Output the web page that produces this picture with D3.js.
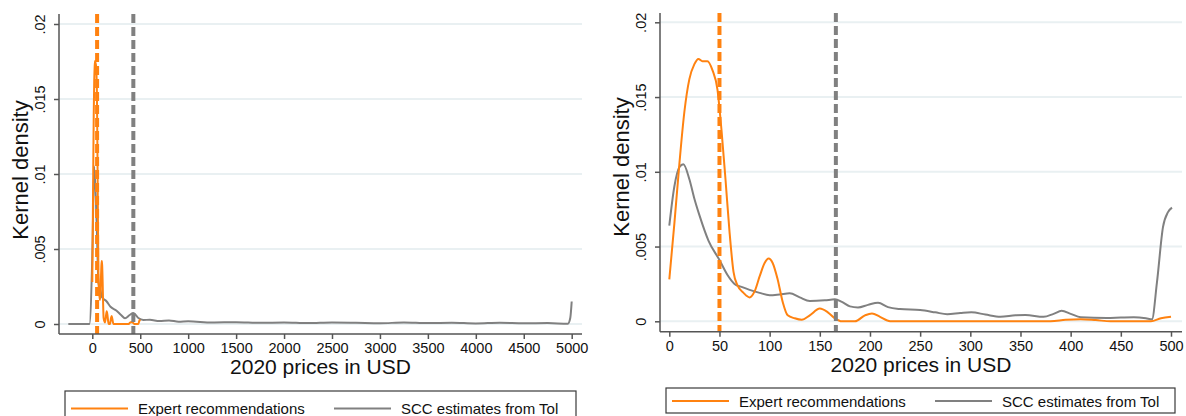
<!DOCTYPE html>
<html>
<head>
<meta charset="utf-8">
<script src="https://cdn.jsdelivr.net/npm/d3@7"></script>
<style>
  html, body { margin: 0; padding: 0; background: #ffffff; }
  svg { display: block; font-family: "Liberation Sans", Arial, sans-serif; }
</style>
</head>
<body>
<svg id="chart" width="1186" height="416"></svg>
<script>
// Kernel density of expert SCC recommendations, 2020 USD: [price, density]
const expertDensity = [
  [0, 0.0028], [5, 0.0065], [10, 0.0105], [15, 0.0140], [20, 0.0162], [25, 0.0172],
  [29, 0.01755], [33, 0.0174], [38, 0.0174], [43, 0.0168], [48, 0.0155], [52, 0.0128],
  [56, 0.0095], [60, 0.0060], [64, 0.0033], [68, 0.0024], [74, 0.0019], [80, 0.0016],
  [85, 0.0020], [90, 0.0030], [95, 0.0039], [99, 0.0042], [103, 0.0039], [108, 0.0028],
  [113, 0.0013], [118, 0.0004], [125, 0.0002], [132, 0.0001], [140, 0.0004], [150, 0.00085],
  [158, 0.0006], [165, 0.0002], [172, 0.0], [185, 0.0], [195, 0.0004], [202, 0.00053],
  [210, 0.0003], [220, 0.0], [380, 0.0], [395, 0.0001], [410, 0.00014], [425, 0.00008],
  [440, 0.0], [480, 0.0], [490, 0.0002], [500, 0.0003]
];

// Kernel density of Tol's SCC estimates over the full range (-250 to 5000)
const tolDensityFull = [
  [-250, 0], [-30, 0], [0, 0.0045], [20, 0.0105], [45, 0.0068], [65, 0.0027], [80, 0.0024],
  [100, 0.0018], [150, 0.0015], [190, 0.00115], [250, 0.0009], [300, 0.0006], [341, 0.00038],
  [390, 0.0006], [428, 0.00073], [480, 0.0004], [532, 0.00027], [600, 0.00028], [700, 0.0002],
  [800, 0.00024], [900, 0.00015], [1000, 0.00018], [1250, 0.0001], [1500, 0.00012],
  [1750, 0.00008], [2000, 0.0001], [2250, 0.00006], [2500, 0.0001], [2750, 0.00008],
  [3000, 0.00005], [3250, 0.0001], [3500, 0.00006], [3750, 0.00008], [4000, 0.00004],
  [4250, 0.00008], [4500, 0.00005], [4750, 0.00006], [4960, 0.00002], [4985, 0.0004],
  [5000, 0.0015]
];

// Kernel density of Tol's SCC estimates truncated at 500
const tolDensityTrunc = [
  [0, 0.0064], [5, 0.0090], [10, 0.0103], [14, 0.0105], [20, 0.0095], [25, 0.0082],
  [30, 0.0071], [39, 0.0054], [50, 0.0041], [58, 0.0031], [65, 0.0025], [72, 0.0023],
  [80, 0.0021], [90, 0.0019], [100, 0.00175], [110, 0.0018], [120, 0.00187], [130, 0.0016],
  [140, 0.00135], [155, 0.0014], [165, 0.00147], [172, 0.0013], [180, 0.0010], [188, 0.00093],
  [198, 0.0011], [208, 0.00124], [218, 0.00095], [230, 0.00082], [250, 0.00075], [265, 0.0006],
  [277, 0.00047], [290, 0.00055], [301, 0.0006], [315, 0.00045], [330, 0.0003], [345, 0.0004],
  [355, 0.00042], [373, 0.0003], [383, 0.0005], [391, 0.0007], [400, 0.0005], [410, 0.00027],
  [436, 0.00022], [450, 0.00025], [463, 0.00027], [475, 0.0002], [481, 0.00013], [486, 0.0026],
  [492, 0.0063], [497, 0.0073], [501, 0.0076]
];

// Reference lines (dashed verticals)
const expertMarker = 50;
const tolMarkerFull = 428;
const tolMarkerTrunc = 166;

// Axis ticks
const leftXTicks = [0, 500, 1000, 1500, 2000, 2500, 3000, 3500, 4000, 4500, 5000];
const rightXTicks = [0, 50, 100, 150, 200, 250, 300, 350, 400, 450, 500];
const yTicks = [0, 0.005, 0.01, 0.015, 0.02];
const yTickLabels = ["0", ".005", ".01", ".015", ".02"];

const seriesNames = ["Expert recommendations", "SCC estimates from Tol"];
const xTitle = "2020 prices in USD";
const yTitle = "Kernel density";

const ORANGE = "#ff8210";
const GRAY = "#808080";
const AXIS = "#555555";
const GRID = "#e9f0f2";

const svg = d3.select("#chart");

function drawPanel(cfg) {
  const g = svg.append("g");
  const x = d3.scaleLinear().domain(cfg.xDomain).range(cfg.xRange);
  const y = d3.scaleLinear().domain([0, 0.02]).range(cfg.yRange);

  // horizontal gridlines
  g.selectAll("line.grid").data(yTicks).join("line")
    .attr("class", "grid")
    .attr("x1", cfg.left).attr("x2", cfg.right)
    .attr("y1", d => y(d)).attr("y2", d => y(d))
    .attr("stroke", GRID).attr("stroke-width", 2);

  // density curves
  const line = d3.line().x(d => x(d[0])).y(d => y(d[1])).curve(d3.curveMonotoneX);
  g.append("path").datum(cfg.tol)
    .attr("d", line).attr("fill", "none")
    .attr("stroke", GRAY).attr("stroke-width", 2).attr("stroke-linejoin", "round");
  g.append("path").datum(expertDensity)
    .attr("d", line).attr("fill", "none")
    .attr("stroke", ORANGE).attr("stroke-width", 2).attr("stroke-linejoin", "round");

  // dashed markers
  [[expertMarker, ORANGE], [cfg.tolMarker, GRAY]].forEach(([v, c]) => {
    g.append("line")
      .attr("x1", x(v)).attr("x2", x(v))
      .attr("y1", cfg.top).attr("y2", cfg.bottom)
      .attr("stroke", c).attr("stroke-width", 4)
      .attr("stroke-dasharray", "9,4");
  });

  // x axis
  const xAxis = g.append("g")
    .attr("transform", `translate(0,${cfg.bottom})`)
    .call(d3.axisBottom(x).tickValues(cfg.xTicks).tickSize(5).tickPadding(4).tickFormat(d3.format("d")));
  xAxis.select(".domain").remove();
  xAxis.selectAll(".tick line").attr("stroke", AXIS).attr("stroke-width", 1.5);
  xAxis.selectAll(".tick text").attr("font-size", "14.5px").attr("fill", "#111")
    .attr("font-family", "Liberation Sans, Arial, sans-serif");
  g.append("line")
    .attr("x1", cfg.left).attr("x2", cfg.right)
    .attr("y1", cfg.bottom).attr("y2", cfg.bottom)
    .attr("stroke", AXIS).attr("stroke-width", 1.5);

  // y axis
  const yAxis = g.append("g")
    .attr("transform", `translate(${cfg.left},0)`)
    .call(d3.axisLeft(y).tickValues(yTicks).tickSize(5)
      .tickFormat((d, i) => yTickLabels[i]));
  yAxis.select(".domain").remove();
  yAxis.selectAll(".tick line").attr("stroke", AXIS).attr("stroke-width", 1.5);
  yAxis.selectAll(".tick text")
    .attr("font-size", "14.5px").attr("fill", "#111")
    .attr("font-family", "Liberation Sans, Arial, sans-serif")
    .attr("text-anchor", "middle")
    .attr("dy", 0).attr("x", 0)
    .attr("transform", "translate(-14,0) rotate(-90)");
  g.append("line")
    .attr("x1", cfg.left).attr("x2", cfg.left)
    .attr("y1", cfg.top).attr("y2", cfg.bottom)
    .attr("stroke", AXIS).attr("stroke-width", 1.5);

  // axis titles
  g.append("text")
    .attr("x", (cfg.left + cfg.right) / 2).attr("y", cfg.bottom + 40)
    .attr("text-anchor", "middle").attr("font-size", "21px").attr("fill", "#111")
    .text(xTitle);
  g.append("text")
    .attr("transform", `translate(${cfg.yTitleX},${cfg.yTitleY}) rotate(-90)`)
    .attr("text-anchor", "middle").attr("font-size", "22px").attr("fill", "#111")
    .text(yTitle);

  // legend
  const lg = g.append("g");
  lg.append("rect")
    .attr("x", cfg.legend.x).attr("y", cfg.legend.y)
    .attr("width", cfg.legend.w).attr("height", cfg.legend.h)
    .attr("fill", "#fff").attr("stroke", "#3a3a3a").attr("stroke-width", 1.2);
  const items = [
    { name: seriesNames[0], color: ORANGE, x0: cfg.legend.x + 6 },
    { name: seriesNames[1], color: GRAY, x0: cfg.legend.x + 269 }
  ];
  items.forEach(it => {
    lg.append("line")
      .attr("x1", it.x0).attr("x2", it.x0 + 57)
      .attr("y1", cfg.legend.lineY).attr("y2", cfg.legend.lineY)
      .attr("stroke", it.color).attr("stroke-width", 2);
    lg.append("text")
      .attr("x", it.x0 + 67).attr("y", cfg.legend.lineY + 5.5)
      .attr("font-size", "15px").attr("fill", "#111")
      .text(it.name);
  });
}

drawPanel({
  xDomain: [0, 5000], xRange: [92.3, 571.7], yRange: [324, 24],
  left: 59, right: 582, top: 14, bottom: 334,
  xTicks: leftXTicks, tol: tolDensityFull, tolMarker: tolMarkerFull,
  yTitleX: 28, yTitleY: 170,
  legend: { x: 65, y: 391, w: 511, h: 30, lineY: 408.5 }
});

drawPanel({
  xDomain: [0, 500], xRange: [669.3, 1171], yRange: [321.3, 22.3],
  left: 660, right: 1182, top: 13, bottom: 331.7,
  xTicks: rightXTicks, tol: tolDensityTrunc, tolMarker: tolMarkerTrunc,
  yTitleX: 629, yTitleY: 167,
  legend: { x: 666, y: 388, w: 509, h: 25, lineY: 401 }
});
</script>
</body>
</html>
